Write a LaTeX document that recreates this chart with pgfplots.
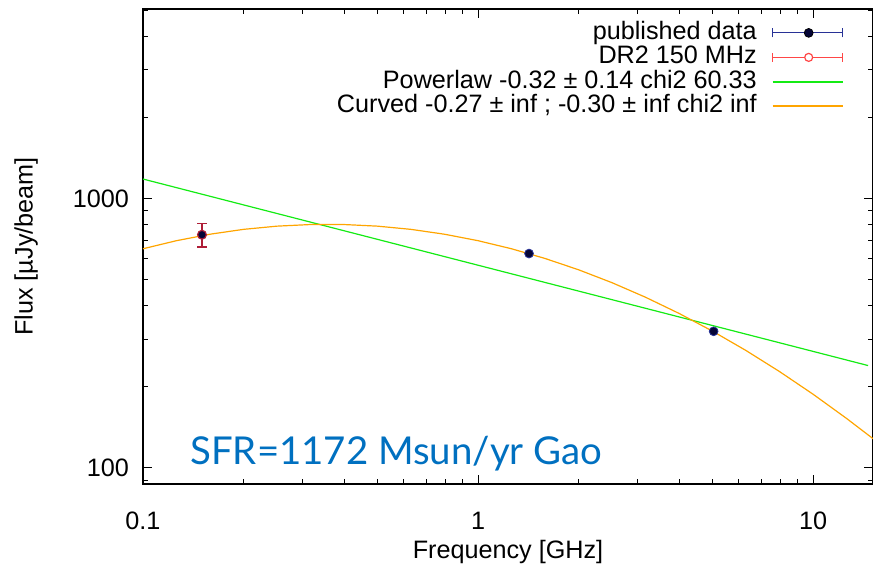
\documentclass[border=0pt]{standalone}
\usepackage{pgfplots}
\pgfplotsset{compat=1.18}
\usepackage{fontspec}
\setmainfont{Liberation Sans}
\newfontfamily\sfrfont{Lato}
\definecolor{pgreen}{RGB}{20,235,20}
\definecolor{porange}{RGB}{255,165,0}
\definecolor{pnavy}{RGB}{40,50,150}
\definecolor{pmark}{RGB}{5,5,55}
\definecolor{pred}{RGB}{255,70,70}
\definecolor{pcrimson}{RGB}{175,30,55}
\definecolor{sfrblue}{RGB}{0,112,192}
\begin{document}
\begin{tikzpicture}
\begin{axis}[
  scale only axis, width=365bp, height=237.5bp,
  xmode=log, ymode=log,
  xmin=0.1, xmax=15.1, ymin=87, ymax=5050,
  xtick={0.1,1,10}, xticklabels={0.1,1,10},
  ytick={100,1000}, yticklabels={100,1000},
  minor xtick={0.2,0.3,0.4,0.5,0.6,0.7,0.8,0.9,2,3,4,5,6,7,8,9},
  minor ytick={90,200,300,400,500,600,700,800,900,2000,3000,4000,5000},
  tick align=inside, major tick length=4.5bp, minor tick length=2.5bp,
  axis line style={line width=0.75bp},
  every tick/.style={black, line width=0.5bp},
  /pgf/number format/assume math mode=true,
  font=\fontsize{12.6bp}{14bp}\selectfont,
  xticklabel style={anchor=base, yshift=-23bp},
  yticklabel style={anchor=east, xshift=-3.5bp},
  xlabel={Frequency [GHz]}, ylabel={Flux [µJy/beam]},
  every axis x label/.style={at={([yshift=-34bp]rel axis cs:0.5,0)}, anchor=center},
  every axis y label/.style={at={([xshift=-58.5bp]rel axis cs:0,0.5)}, rotate=90, anchor=center},
  legend plot pos=right, legend cell align=right,
  legend style={draw=none, fill=none, at={(rel axis cs:1,1)}, anchor=north east,
    xshift=-14.5bp, yshift=-6.5bp, inner sep=0pt, row sep=1.75bp, column sep=7.5bp,
    nodes={inner sep=0pt, text height=8.5bp, text depth=2bp},
    font=\fontsize{12.6bp}{14bp}\selectfont},
]
\addlegendimage{legend image code/.code={
  \draw[draw=pnavy, line width=0.5bp] (0bp,0bp) -- (35bp,0bp);
  \draw[draw=pnavy, line width=0.5bp] (0bp,-2.2bp) -- (0bp,2.2bp);
  \draw[draw=pnavy, line width=0.5bp] (35bp,-2.2bp) -- (35bp,2.2bp);
  \fill[fill=pmark] (18bp,0bp) circle (2.2bp);}}
\addlegendentry{published data}
\addlegendimage{legend image code/.code={
  \draw[draw=pred, line width=0.6bp] (0bp,0bp) -- (35bp,0bp);
  \draw[draw=pred, line width=0.6bp] (0bp,-2.2bp) -- (0bp,2.2bp);
  \draw[draw=pred, line width=0.6bp] (35bp,-2.2bp) -- (35bp,2.2bp);
  \draw[draw=pred, fill=white, line width=0.6bp] (18bp,0bp) circle (2bp);}}
\addlegendentry{DR2 150 MHz}
\addlegendimage{legend image code/.code={
  \draw[draw=pgreen, line width=0.8bp] (0bp,0bp) -- (35bp,0bp);}}
\addlegendentry{Powerlaw -0.32 ± 0.14 chi2 60.33}
\addlegendimage{legend image code/.code={
  \color{porange}\draw[draw=porange, line width=0.9bp] (0bp,0bp) -- (35bp,0bp);}}
\addlegendentry{Curved -0.27 ± inf ; -0.30 ± inf chi2 inf}

% powerlaw fit
\addplot[pgreen, line width=0.6bp, forget plot] coordinates {(0.1,1180) (14.6,239.5)};

% DR2 150 MHz
\addplot[forget plot, pcrimson, line width=0.9bp, mark=*, only marks,
  mark options={fill=pmark, draw=pcrimson, mark size=2.2bp, line width=0.6bp},
  error bars/.cd, y dir=both, y explicit,
  error bar style={pcrimson, line width=0.9bp},
  error mark options={rotate=90, mark size=2.3bp, pcrimson, line width=0.9bp}]
  coordinates {(0.15,733) +- (0,74)};

% published data
\addplot[forget plot, pnavy, mark=*, only marks,
  mark options={fill=pmark, draw=pnavy, mark size=2.2bp, line width=0.4bp},
  error bars/.cd, y dir=both, y explicit,
  error bar style={pnavy, line width=0.5bp}]
  coordinates {(1.42,624) +- (0,10) (5.05,321) +- (0,5)};

% curved fit
\addplot[porange, line width=0.6bp, forget plot] coordinates {
(0.1,650.1) (0.1259,696.6) (0.1585,736.2) (0.1995,767.4) (0.2512,788.9)
(0.3162,799.8) (0.3981,799.8) (0.5012,788.9) (0.6310,767.4) (0.7943,736.2)
(1,696.6) (1.2589,650.1) (1.5849,598.4) (1.9953,543.3) (2.5119,486.4)
(3.1623,429.5) (3.9811,374.1) (5.0119,321.4) (6.3096,272.3) (7.9433,227.5)
(10,187.5) (12.589,152.4) (15.136,127.9)};

\node[anchor=base west, text=sfrblue, font=\sfrfont\fontsize{19.2bp}{23bp}\selectfont, inner sep=0pt]
  at ([shift={(23.5bp,9.5bp)}]rel axis cs:0,0) {SFR=1172 Msun/yr Gao};
\end{axis}
\pgfresetboundingbox
\path ([shift={(-71.5bp,-44.5bp)}]current axis.south west) rectangle ([shift={(0bp,4.5bp)}]current axis.north east);
\end{tikzpicture}
\end{document}
